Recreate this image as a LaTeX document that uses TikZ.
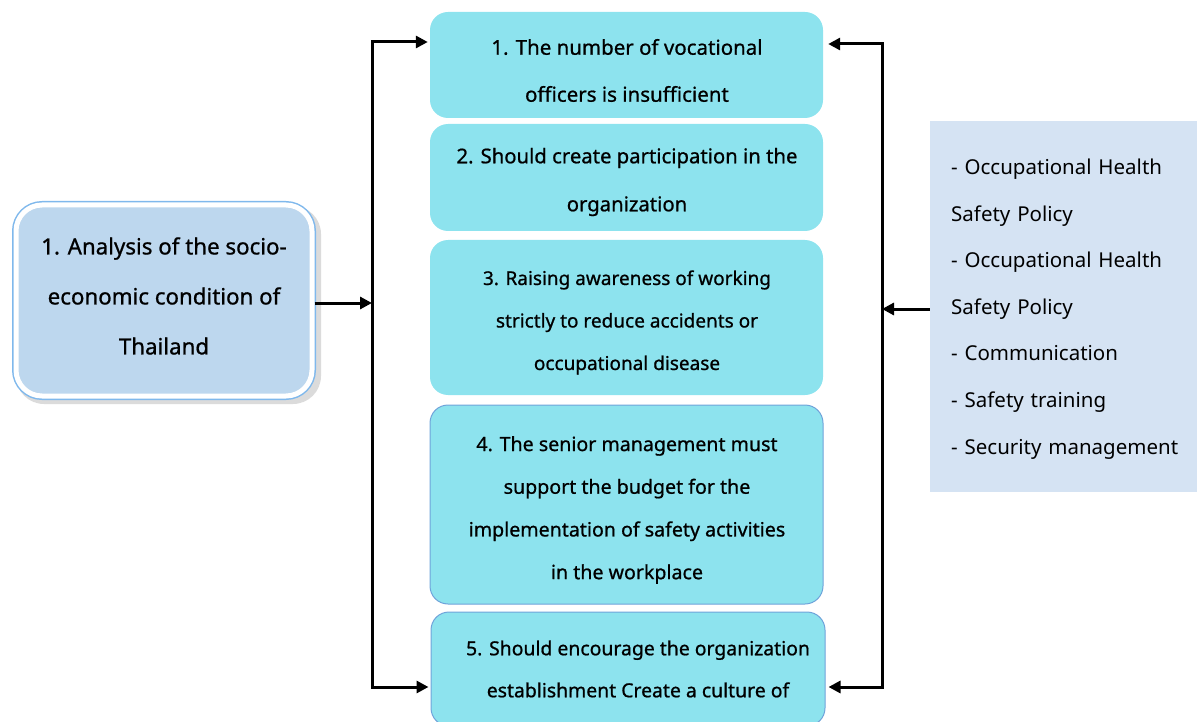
\documentclass[tikz,border=0pt]{standalone}
\usepackage{fontspec}
\setmainfont{Noto Sans}
\newfontfamily\boxfont{Noto Sans}[FakeBold=0.8]
\usetikzlibrary{arrows.meta}
\definecolor{cyanfill}{HTML}{8DE3EE}
\definecolor{cyanborder}{HTML}{6FA3DA}
\definecolor{leftfill}{HTML}{BDD7EE}
\definecolor{leftring}{HTML}{7FB8EC}
\definecolor{rightfill}{HTML}{D5E3F3}
\begin{document}
\begin{tikzpicture}[x=1pt,y=-1pt,
  cbox/.style={rounded corners=18pt, fill=cyanfill, minimum width=393pt, inner sep=0pt},
  bbox/.style={cbox, draw=cyanborder, line width=1pt},
  txt/.style={align=center, inner sep=0pt},
  lbox/.style={rounded corners=26pt, fill=leftfill, draw=white, line width=5pt,
    preaction={draw=leftring, line width=8pt},
    minimum width=296pt, minimum height=191pt, inner sep=0pt},
  rbox/.style={fill=rightfill, minimum width=267pt, minimum height=371pt, inner sep=0pt},
  rtxt/.style={text width=230pt, align=left, inner sep=0pt,
    font=\fontsize{20.5}{46.6}\selectfont},
  tip/.tip={Triangle[length=12pt,width=12pt]},
  conn/.style={line width=3pt, line join=miter},
  arr/.style={conn, -tip},
  arrs/.style={conn, tip-tip}]
\useasboundingbox (0,0) rectangle (1197,722);
\clip (0,0) rectangle (1197,722);

% shadow of left box
\fill[black!14, rounded corners=28pt] (16,206) rectangle (321,404);

\node[lbox] (L) at (164,300.5) {};
\node[txt, font=\boxfont\fontsize{22.3}{50}\selectfont] (tL) at (164,296) {1. Analysis of the socio-\\economic condition of\\Thailand};

\node[cbox, minimum height=106pt] (b1) at (626.5,65) {};
\node[txt, font=\boxfont\fontsize{20.5}{47}\selectfont] (t1) at (627,70.5) {1. The number of vocational\\officers is insufficient};

\node[cbox, minimum height=107pt] (b2) at (626.5,177.5) {};
\node[txt, font=\boxfont\fontsize{20.3}{48}\selectfont] (t2) at (627,182) {2. Should create participation in the\\organization};

\node[cbox, minimum height=155pt] (b3) at (626.5,317.5) {};
\node[txt, font=\boxfont\fontsize{19}{42.5}\selectfont] (t3) at (627,322.5) {3. Raising awareness of working\\strictly to reduce accidents or\\occupational disease};

\node[bbox, minimum height=199pt] (b4) at (626.5,504.5) {};
\node[txt, font=\boxfont\fontsize{19.6}{42.7}\selectfont] (t4) at (627,510) {4. The senior management must\\support the budget for the\\implementation of safety activities\\in the workplace};

\node[bbox, minimum height=114pt, minimum width=394pt] (b5) at (628,669) {};
\node[txt, font=\boxfont\fontsize{19.4}{42}\selectfont] (t5) at (638,669) {5. Should encourage the organization\\establishment Create a culture of};

\node[rbox] (R) at (1063.5,306.5) {};
\node[rtxt, anchor=west] (tR) at (951,309) {- Occupational Health\\Safety Policy\\- Occupational Health\\Safety Policy\\- Communication\\- Safety training\\- Security management};

\coordinate (lt) at (372,42);
\coordinate (lb) at (372,687);
\coordinate (lj) at (372,303);
\coordinate (rt) at (882,44);
\coordinate (rb) at (882,687);
\coordinate (rj) at (882,309);

\draw[arrs] ([xshift=-2pt]b1.west |- lt) -- (lt) -- (lb) -- ([xshift=-2pt]b5.west |- lb);
\draw[arr] (L.east |- lj) -- (lj);
\draw[arrs] ([xshift=5pt]b1.east |- rt) -- (rt) -- (rb) -- ([xshift=3pt]b5.east |- rb);
\draw[arr] (R.west |- rj) -- (rj);
\end{tikzpicture}
\end{document}
